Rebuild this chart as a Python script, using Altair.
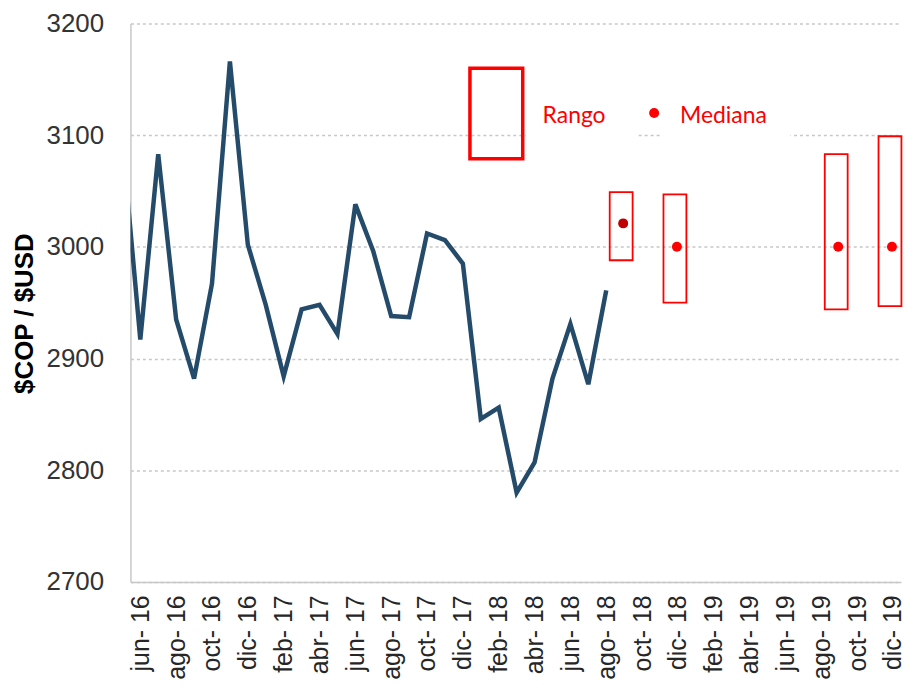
import altair as alt
import pandas as pd

# ---- data ----
month_abbr = ["ene", "feb", "mar", "abr", "may", "jun", "jul", "ago", "sep", "oct", "nov", "dic"]
# months from may-16 to dic-19; index 0 = jun-16
all_months = [f"{m}-{y}" for y in (16, 17, 18, 19) for m in month_abbr][4:]
month_index = {m: i - 1 for i, m in enumerate(all_months)}

hist_months = all_months[:28]  # may-16 .. ago-18
hist_values = [3095, 2917, 3083, 2935, 2882, 2967, 3166, 3002, 2948, 2884,
               2944, 2948, 2922, 3038, 2996, 2938, 2937, 3012, 3006, 2985,
               2846, 2856, 2780, 2807, 2882, 2931, 2877, 2961]

fc_months = ["sep-18", "dic-18", "sep-19", "dic-19"]
fc_low = [2988, 2950, 2944, 2947]
fc_high = [3049, 3047, 3083, 3099]
fc_median = [3021, 3000, 3000, 3000]

tick_labels = ["jun- 16", "ago- 16", "oct- 16", "dic- 16", "feb- 17", "abr- 17",
               "jun- 17", "ago- 17", "oct- 17", "dic- 17", "feb- 18", "abr- 18",
               "jun- 18", "ago- 18", "oct- 18", "dic- 18", "feb- 19", "abr- 19",
               "jun- 19", "ago- 19", "oct- 19", "dic- 19"]
tick_values = list(range(0, 43, 2))
y_ticks = [2700, 2800, 2900, 3000, 3100, 3200]

hist = pd.DataFrame({"idx": [month_index[m] for m in hist_months], "v": hist_values})
fc = pd.DataFrame({"idx": [month_index[m] for m in fc_months],
                   "low": fc_low, "high": fc_high, "v": fc_median})
dummy = pd.DataFrame({"a": [0]})

FONT = "Liberation Sans, Arial, sans-serif"
LEG_FONT = "Lato, sans-serif"
RED = "#ff0000"

label_js = "[" + ",".join(f"'{t}'" for t in tick_labels) + "][round(datum.value/2)]"

xscale = alt.Scale(domain=[-0.55, 42.45], nice=False, zero=False, padding=0)
yscale = alt.Scale(domain=[2700, 3200], nice=False, zero=False, padding=0)

x_axis = alt.Axis(values=tick_values, labelExpr=label_js, labelAngle=270,
                  grid=False, ticks=False, labelPadding=13, labelFontSize=25,
                  labelFont=FONT, labelColor="#262626", domainColor="#c8c8c8",
                  domainWidth=1.5, title=None, labelOverlap=False)
y_axis = alt.Axis(values=y_ticks, format="d", grid=True, gridDash=[3, 3], gridColor="#c8c8c8",
                  gridWidth=1.5, ticks=False, labelPadding=27, labelFontSize=26,
                  labelFont=FONT, labelColor="#333333", domainColor="#c8c8c8",
                  domainWidth=1.5, title="$COP / $USD", titleFont=FONT,
                  titleFontSize=26, titleFontWeight="bold", titleColor="#000000",
                  titlePadding=9, titleY=291)

line = alt.Chart(hist).mark_line(color="#254B6B", strokeWidth=4.5, clip=True).encode(
    x=alt.X("idx:Q", scale=xscale, axis=x_axis),
    y=alt.Y("v:Q", scale=yscale, axis=y_axis),
)

boxes = alt.Chart(fc).mark_bar(size=23, xOffset=-3, fill="white", fillOpacity=0,
                               stroke=RED, strokeWidth=1.8).encode(
    x=alt.X("idx:Q", scale=xscale, axis=x_axis),
    y=alt.Y("low:Q", scale=yscale, axis=y_axis),
    y2="high:Q",
)

medians = alt.Chart(fc).mark_circle(size=100, opacity=1, xOffset=-1).encode(
    x=alt.X("idx:Q", scale=xscale, axis=x_axis),
    y=alt.Y("v:Q", scale=yscale, axis=y_axis),
    color=alt.condition(alt.datum.idx == 27, alt.value("#c00000"), alt.value(RED)),
)

# legend (drawn in pixel space inside the plot)
mask1 = alt.Chart(dummy).mark_rect(color="white").encode(
    x=alt.value(397), x2=alt.value(510), y=alt.value(107), y2=alt.value(116))
mask2 = alt.Chart(dummy).mark_rect(color="white").encode(
    x=alt.value(532), x2=alt.value(663), y=alt.value(107), y2=alt.value(116))
leg_box = alt.Chart(dummy).mark_rect(fill="white", fillOpacity=0, stroke=RED, strokeWidth=3.5).encode(
    x=alt.value(341), x2=alt.value(394), y=alt.value(45), y2=alt.value(136))
leg_text1 = alt.Chart(dummy).mark_text(text="Rango", align="left", baseline="middle",
                                       font=LEG_FONT, fontSize=23, color=RED).encode(
    x=alt.value(414), y=alt.value(93))
leg_dot = alt.Chart(dummy).mark_circle(size=100, color=RED, opacity=1).encode(
    x=alt.value(526), y=alt.value(90))
leg_text2 = alt.Chart(dummy).mark_text(text="Mediana", align="left", baseline="middle",
                                       font=LEG_FONT, fontSize=23, color=RED).encode(
    x=alt.value(552), y=alt.value(93))

chart = alt.layer(line, boxes, medians, mask1, mask2, leg_box, leg_text1, leg_dot, leg_text2).properties(
    width=774, height=561,
    padding={"left": 3, "top": 1, "right": 0, "bottom": 0},
    background="white",
).configure_view(stroke=None)

chart.save("out.html", embed_options={"renderer": "svg", "actions": False})
